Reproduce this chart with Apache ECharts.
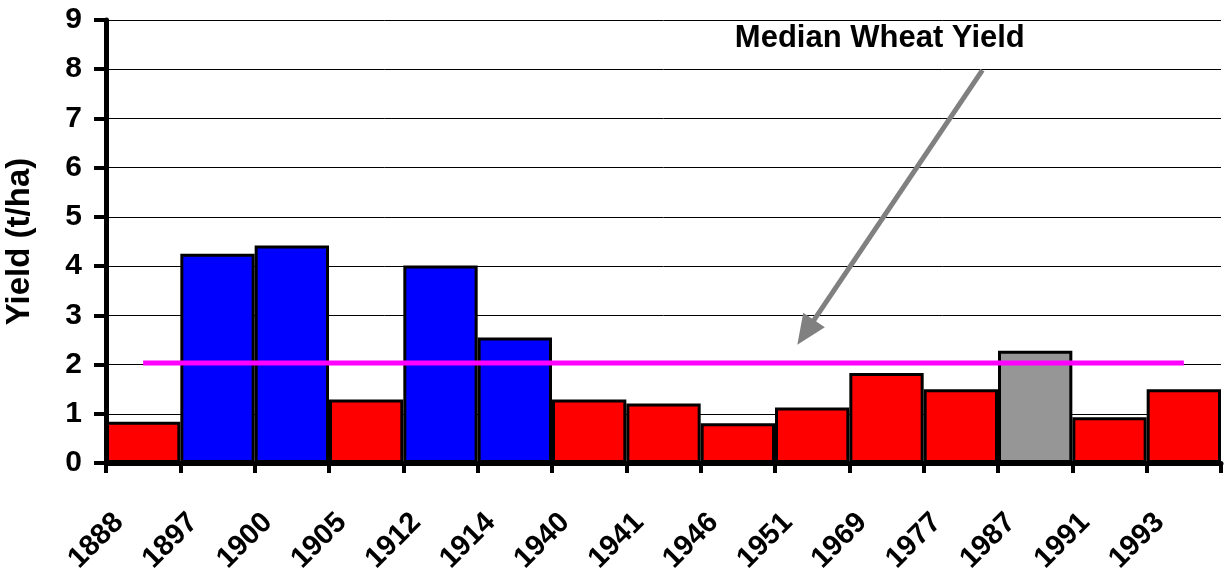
<!DOCTYPE html>
<html>
<head>
<meta charset="utf-8">
<script src="https://cdn.jsdelivr.net/npm/echarts@6/dist/echarts.min.js"></script>
<style>
html,body{margin:0;padding:0;background:#fff;}
#chart{width:1225px;height:569px;}
</style>
</head>
<body>
<div id="chart"></div>
<script>
// ---- data ----
var years = ['1888','1897','1900','1905','1912','1914','1940','1941','1946','1951','1969','1977','1987','1991','1993'];
var yields = [0.84, 4.25, 4.42, 1.29, 4.01, 2.55, 1.29, 1.21, 0.81, 1.13, 1.83, 1.50, 2.28, 0.93, 1.50];
var yieldClass = ['dry','wet','wet','dry','wet','wet','dry','dry','dry','dry','dry','dry','mid','dry','dry'];
var medianYield = 2.03;
var yTicks = [0,1,2,3,4,5,6,7,8,9];
var annotationText = 'Median Wheat Yield';

// ---- styles ----
var classColor = {dry:'#FF0000', wet:'#0000FF', mid:'#969696'};
var FONT = '"Liberation Sans", Arial, sans-serif';

var chart = echarts.init(document.getElementById('chart'));

var barData = yields.map(function(v,i){
  return {value:v, itemStyle:{color:classColor[yieldClass[i]]}};
});
var medianData = years.map(function(){ return medianYield; });
var labelCats = years.concat(['']);

var option = {
  animation:false,
  backgroundColor:'#fff',
  grid:[
    {left:106, right:4, top:20, bottom:106, containLabel:false, outerBoundsMode:'none'},
    {left:119, right:-9, top:20, bottom:106, containLabel:false, outerBoundsMode:'none'}
  ],
  xAxis:[
    {type:'category', gridIndex:0, data:years, boundaryGap:true,
     axisLine:{show:true, lineStyle:{color:'#000', width:5}},
     axisTick:{show:true, length:10, lineStyle:{color:'#000', width:4}},
     axisLabel:{show:false}, splitLine:{show:false}},
    {type:'category', gridIndex:1, data:labelCats, boundaryGap:false, position:'bottom',
     axisLine:{show:false}, axisTick:{show:false}, splitLine:{show:false},
     axisLabel:{show:true, interval:0, rotate:45, margin:55,
       color:'#000', fontFamily:FONT, fontWeight:'bold', fontSize:29}}
  ],
  yAxis:[
    {type:'value', gridIndex:0, min:0, max:9, interval:1,
     name:'Yield (t/ha)', nameLocation:'middle', nameGap:70, nameRotate:90,
     nameTextStyle:{color:'#000', fontFamily:FONT, fontWeight:'bold', fontSize:33},
     axisLine:{show:true, lineStyle:{color:'#000', width:5}},
     axisTick:{show:true, inside:false, length:12, lineStyle:{color:'#000', width:4}},
     axisLabel:{show:true, margin:24, color:'#000', fontFamily:FONT, fontWeight:'bold', fontSize:30,
       formatter:function(v){ return yTicks.indexOf(v) >= 0 ? String(v) : ''; }},
     splitLine:{show:true, lineStyle:{color:'#000', width:1}}},
    {type:'value', gridIndex:1, min:0, max:9, show:false}
  ],
  series:[
    {type:'bar', xAxisIndex:0, yAxisIndex:0, data:barData, barCategoryGap:'0%', barGap:'0%',
     itemStyle:{borderColor:'#000', borderWidth:3}, z:2},
    {type:'line', xAxisIndex:0, yAxisIndex:0, data:medianData, symbol:'none',
     lineStyle:{color:'#FF00FF', width:5}, z:5}
  ]
};
chart.setOption(option);

// ---- annotation (arrow + text) positioned in data space ----
function px(pos, val){
  var c0 = chart.convertToPixel({xAxisIndex:0}, 0);
  var c1 = chart.convertToPixel({xAxisIndex:0}, 1);
  var bw = c1 - c0;
  var x = c0 - bw/2 + pos*bw;
  var y = chart.convertToPixel({yAxisIndex:0}, val);
  return [x, y];
}
var aStart = px(11.79, 7.98);
var aTip = px(9.30, 2.40);
var textPos = px(10.41, 8.62);
var dx = aTip[0]-aStart[0], dy = aTip[1]-aStart[1];
var len = Math.sqrt(dx*dx+dy*dy), ux = dx/len, uy = dy/len;
var headL = 30, headW = 13;
var base = [aTip[0]-ux*headL, aTip[1]-uy*headL];
var p1 = [base[0]-uy*headW, base[1]+ux*headW];
var p2 = [base[0]+uy*headW, base[1]-ux*headW];

chart.setOption({
  graphic:[
    {type:'line', z:10, shape:{x1:aStart[0], y1:aStart[1], x2:base[0]+ux*2, y2:base[1]+uy*2},
     style:{stroke:'#808080', lineWidth:5}},
    {type:'polygon', z:10, shape:{points:[aTip, p1, p2]}, style:{fill:'#808080'}},
    {type:'text', z:10, x:textPos[0], y:textPos[1],
     style:{text:annotationText, fill:'#000', font:'bold 31px ' + FONT, align:'center', verticalAlign:'middle'}}
  ]
});
</script>
</body>
</html>
